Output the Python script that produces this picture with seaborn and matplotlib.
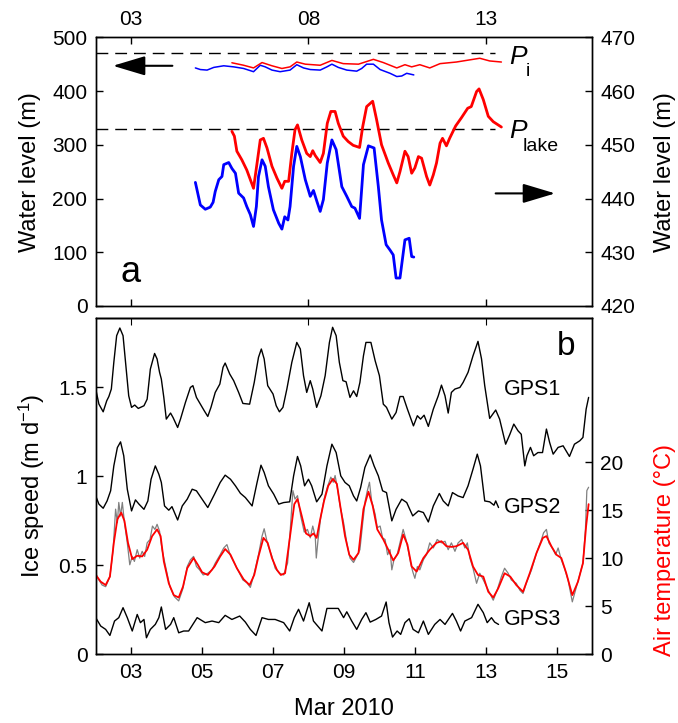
import matplotlib
matplotlib.use('Agg')
import matplotlib.pyplot as plt
import seaborn as sns

# ---- panel a: water level (day of March 2010) ----
# thin lines, left axis (m)
blue_thin_day = [4.81, 4.95, 5.14, 5.33, 5.61, 5.89, 6.17, 6.45, 6.64, 6.78, 6.97, 7.20, 7.48, 7.67, 7.86,
                 8.05, 8.33, 8.52, 8.66, 8.84, 9.08, 9.36, 9.50, 9.64, 9.83, 10.02, 10.30, 10.49, 10.63,
                 10.77, 10.97]
blue_thin_val = [443, 440, 439, 444, 447, 445, 442, 436, 448, 445, 439, 436, 439, 449, 443,
                 440, 439, 445, 450, 444, 439, 437, 442, 450, 450, 440, 433, 427, 428,
                 433, 430]
red_thin_day = [5.84, 6.17, 6.45, 6.69, 6.97, 7.25, 7.48, 7.67, 7.91, 8.33, 8.66, 8.98, 9.41, 9.83,
                10.11, 10.49, 10.72, 10.91, 11.14, 11.42, 11.71, 12.17, 12.83, 13.11, 13.44]
red_thin_val = [452.6, 448, 443, 453, 447, 442, 445, 454, 450, 448, 457, 451, 450, 459,
                453, 443, 449, 445, 449, 443, 451, 454, 461, 456, 454]

# thick lines, right axis (m)
blue_thick_day = [4.81, 4.95, 5.09, 5.23, 5.31, 5.37, 5.47, 5.56, 5.61, 5.75, 5.84, 5.94, 6.03, 6.17,
                  6.26, 6.36, 6.45, 6.53, 6.59, 6.69, 6.78, 6.87, 7.01, 7.16, 7.25, 7.33, 7.42, 7.48,
                  7.58, 7.67, 7.77, 7.91, 8.05, 8.14, 8.24, 8.33, 8.42, 8.53, 8.66, 8.78, 8.94, 9.08,
                  9.22, 9.31, 9.44, 9.55, 9.69, 9.85, 9.97, 10.06, 10.19, 10.30, 10.39, 10.47, 10.58,
                  10.72, 10.84, 10.91, 10.97]
blue_thick_val = [443.0, 438.8, 438.0, 438.4, 439.3, 441.3, 443.5, 444.1, 446.3, 446.7, 445.6, 444.7,
                  441.0, 440.1, 438.5, 437.0, 434.8, 438.5, 444.1, 447.2, 446.0, 442.2, 437.9, 435.4,
                  434.3, 436.6, 436.0, 438.5, 446.0, 449.7, 447.8, 443.5, 440.4, 441.5, 439.4, 437.6,
                  439.8, 446.6, 450.9, 449.1, 442.2, 440.4, 438.5, 438.2, 436.3, 446.3, 449.8, 449.4,
                  442.2, 436.0, 431.4, 430.4, 429.5, 425.2, 425.2, 432.3, 432.6, 429.2, 429.1]
red_thick_day = [5.84, 5.91, 5.98, 6.12, 6.26, 6.45, 6.55, 6.64, 6.73, 6.83, 6.97, 7.11, 7.25, 7.33,
                 7.44, 7.53, 7.62, 7.69, 7.81, 7.95, 8.05, 8.12, 8.19, 8.33, 8.42, 8.53, 8.63, 8.75,
                 8.84, 8.98, 9.12, 9.26, 9.44, 9.53, 9.64, 9.81, 9.92, 10.06, 10.25, 10.39, 10.49,
                 10.58, 10.72, 10.81, 10.91, 11.00, 11.10, 11.19, 11.33, 11.42, 11.52, 11.61, 11.71,
                 11.78, 11.89, 11.98, 12.15, 12.31, 12.49, 12.59, 12.74, 12.81, 12.93, 13.07, 13.21,
                 13.44]
red_thick_val = [452.5, 451.6, 448.8, 447.2, 445.3, 441.9, 446.6, 450.9, 451.2, 449.4, 446.0, 443.8,
                 441.9, 443.2, 443.2, 448.4, 452.8, 453.7, 450.9, 448.4, 447.8, 448.9, 448.0, 446.7,
                 448.4, 454.0, 456.2, 456.2, 454.0, 451.6, 450.6, 449.9, 449.5, 453.4, 457.1, 458.1,
                 454.7, 450.0, 446.6, 444.4, 442.9, 445.0, 448.8, 447.8, 444.7, 445.7, 447.8, 447.5,
                 444.1, 442.5, 444.4, 446.6, 450.3, 451.2, 449.8, 451.2, 453.5, 455.0, 456.8, 457.1,
                 459.9, 460.4, 458.4, 455.3, 454.3, 453.3]
p_i = 470
p_lake = 329

# ---- panel b: ice speed (m/d) and air temperature (degC) ----
gps1_day = [2.00, 2.09, 2.21, 2.31, 2.37, 2.44, 2.51, 2.59, 2.68, 2.77, 2.84, 2.93, 3.01, 3.10, 3.20,
            3.36, 3.45, 3.54, 3.66, 3.73, 3.80, 3.85, 3.92, 3.99, 4.11, 4.18, 4.31, 4.39, 4.53, 4.67,
            4.74, 4.84, 4.95, 5.06, 5.16, 5.25, 5.37, 5.50, 5.59, 5.65, 5.78, 5.89, 6.03, 6.15, 6.34,
            6.47, 6.59, 6.67, 6.75, 6.85, 7.00, 7.09, 7.18, 7.28, 7.39, 7.53, 7.67, 7.77, 7.86, 7.95,
            8.05, 8.12, 8.23, 8.35, 8.47, 8.59, 8.68, 8.78, 8.87, 8.97, 9.06, 9.17, 9.27, 9.36, 9.45,
            9.55, 9.62, 9.76, 9.88, 10.00, 10.11, 10.20, 10.35, 10.47, 10.58, 10.67, 10.79, 10.96,
            11.07, 11.16, 11.26, 11.38, 11.52, 11.66, 11.75, 11.85, 11.94, 12.03, 12.13, 12.27,
            12.36, 12.50, 12.64, 12.78, 12.88, 12.97, 13.11, 13.28, 13.39, 13.56, 13.68, 13.79,
            13.91, 14.00, 14.10, 14.16, 14.26, 14.35, 14.47, 14.60, 14.71, 14.80, 14.90, 15.04,
            15.18, 15.36, 15.50, 15.65, 15.74, 15.83, 15.90]
gps1 = [1.491, 1.406, 1.363, 1.425, 1.449, 1.491, 1.641, 1.791, 1.834, 1.791, 1.641, 1.453, 1.388,
        1.401, 1.382, 1.397, 1.434, 1.603, 1.691, 1.660, 1.585, 1.547, 1.444, 1.322, 1.356, 1.331,
        1.275, 1.322, 1.416, 1.500, 1.510, 1.444, 1.406, 1.369, 1.337, 1.388, 1.472, 1.519, 1.613,
        1.637, 1.575, 1.538, 1.472, 1.410, 1.406, 1.528, 1.669, 1.716, 1.660, 1.510, 1.463, 1.397,
        1.363, 1.388, 1.491, 1.641, 1.753, 1.716, 1.566, 1.472, 1.538, 1.491, 1.388, 1.453, 1.566,
        1.753, 1.838, 1.791, 1.641, 1.538, 1.532, 1.444, 1.481, 1.449, 1.528, 1.678, 1.753, 1.753,
        1.650, 1.566, 1.406, 1.388, 1.322, 1.359, 1.449, 1.449, 1.378, 1.284, 1.341, 1.322, 1.344,
        1.281, 1.378, 1.453, 1.513, 1.453, 1.356, 1.472, 1.491, 1.500, 1.528, 1.585, 1.678, 1.759,
        1.660, 1.510, 1.326, 1.373, 1.322, 1.181, 1.237, 1.294, 1.256, 1.237, 1.059, 1.116, 1.163,
        1.116, 1.134, 1.134, 1.266, 1.191, 1.125, 1.163, 1.172, 1.112, 1.181, 1.200, 1.219, 1.378,
        1.444]

gps2_day = [2.00, 2.09, 2.21, 2.32, 2.42, 2.51, 2.61, 2.70, 2.79, 2.89, 3.01, 3.12, 3.22, 3.36, 3.47,
            3.56, 3.68, 3.78, 3.85, 3.94, 4.06, 4.15, 4.31, 4.44, 4.58, 4.72, 4.84, 5.00, 5.16, 5.35,
            5.51, 5.65, 5.80, 5.94, 6.08, 6.22, 6.41, 6.55, 6.66, 6.75, 6.87, 7.02, 7.16, 7.30, 7.47,
            7.58, 7.69, 7.78, 7.89, 8.00, 8.09, 8.23, 8.38, 8.52, 8.66, 8.78, 8.91, 9.03, 9.15, 9.27,
            9.36, 9.47, 9.59, 9.74, 9.85, 9.97, 10.09, 10.20, 10.35, 10.47, 10.63, 10.77, 10.94,
            11.10, 11.24, 11.38, 11.52, 11.69, 11.80, 11.94, 12.06, 12.22, 12.36, 12.50, 12.64,
            12.76, 12.85, 12.97, 13.11, 13.23, 13.28, 13.36]
gps2 = [0.890, 0.844, 0.821, 0.862, 0.919, 1.059, 1.162, 1.194, 1.116, 0.928, 0.806, 0.868, 0.844,
        0.815, 0.862, 0.984, 1.059, 1.012, 0.966, 0.834, 0.810, 0.830, 0.755, 0.834, 0.872, 0.928,
        0.919, 0.872, 0.825, 0.900, 0.966, 1.007, 0.984, 0.947, 0.905, 0.881, 0.834, 0.966, 1.063,
        1.022, 0.947, 0.900, 0.844, 0.853, 0.857, 1.003, 1.112, 1.059, 0.947, 0.984, 0.947, 0.857,
        0.900, 1.059, 1.181, 1.134, 1.003, 0.966, 0.947, 0.890, 0.862, 0.937, 1.050, 1.121, 1.059,
        1.003, 0.919, 0.909, 0.750, 0.815, 0.872, 0.853, 0.778, 0.806, 0.797, 0.744, 0.834, 0.904,
        0.862, 0.834, 0.909, 0.890, 0.881, 0.947, 1.041, 1.125, 1.059, 0.862, 0.857, 0.838, 0.862,
        0.825]

gps3_day = [2.00, 2.14, 2.28, 2.40, 2.53, 2.65, 2.77, 2.89, 3.03, 3.17, 3.26, 3.36, 3.43, 3.54, 3.68,
            3.78, 3.85, 3.97, 4.11, 4.20, 4.34, 4.48, 4.62, 4.86, 5.09, 5.28, 5.47, 5.65, 5.84, 6.06,
            6.22, 6.36, 6.52, 6.69, 6.87, 7.06, 7.30, 7.47, 7.60, 7.72, 7.86, 8.02, 8.14, 8.38, 8.52,
            8.84, 8.99, 9.08, 9.22, 9.36, 9.50, 9.62, 9.74, 9.90, 10.06, 10.19, 10.27, 10.37, 10.50,
            10.60, 10.72, 10.84, 10.95, 11.10, 11.24, 11.38, 11.56, 11.71, 11.85, 12.06, 12.17,
            12.29, 12.41, 12.60, 12.78, 12.93, 13.04, 13.16, 13.25, 13.36]
gps3 = [0.206, 0.159, 0.140, 0.106, 0.187, 0.206, 0.262, 0.206, 0.131, 0.224, 0.178, 0.196, 0.093,
        0.140, 0.168, 0.206, 0.266, 0.140, 0.168, 0.206, 0.121, 0.131, 0.131, 0.206, 0.178, 0.187,
        0.178, 0.219, 0.196, 0.215, 0.181, 0.140, 0.106, 0.206, 0.196, 0.196, 0.178, 0.131, 0.206,
        0.253, 0.187, 0.290, 0.187, 0.131, 0.258, 0.258, 0.206, 0.239, 0.187, 0.140, 0.196, 0.234,
        0.181, 0.196, 0.215, 0.294, 0.178, 0.097, 0.131, 0.112, 0.178, 0.200, 0.140, 0.121, 0.187,
        0.112, 0.168, 0.196, 0.168, 0.230, 0.187, 0.131, 0.187, 0.206, 0.281, 0.234, 0.178, 0.206,
        0.181, 0.168]

temp_day = [2.00, 2.14, 2.28, 2.40, 2.51, 2.61, 2.72, 2.81, 2.91, 3.03, 3.17, 3.31, 3.45, 3.59, 3.73,
            3.83, 3.92, 4.06, 4.20, 4.34, 4.46, 4.58, 4.76, 4.88, 5.00, 5.16, 5.35, 5.51, 5.65, 5.80,
            5.98, 6.17, 6.34, 6.47, 6.59, 6.73, 6.85, 6.97, 7.11, 7.22, 7.34, 7.48, 7.60, 7.69, 7.81,
            7.93, 8.05, 8.14, 8.23, 8.33, 8.44, 8.56, 8.69, 8.80, 8.91, 9.03, 9.15, 9.27, 9.41, 9.55,
            9.69, 9.81, 9.94, 10.11, 10.25, 10.39, 10.53, 10.67, 10.79, 10.91, 11.05, 11.24, 11.42,
            11.61, 11.75, 11.89, 12.03, 12.17, 12.36, 12.50, 12.64, 12.78, 12.93, 13.07, 13.21,
            13.35, 13.53, 13.69, 13.86, 14.05, 14.24, 14.43, 14.61, 14.71, 14.85, 14.99, 15.13,
            15.27, 15.44, 15.60, 15.74, 15.83, 15.90]
temp_smooth = [8.26, 7.56, 7.21, 8.09, 11.60, 14.05, 14.75, 13.88, 11.60, 9.91, 10.26, 10.19, 10.89,
               12.30, 13.00, 12.30, 9.67, 7.39, 6.16, 5.91, 7.04, 8.96, 10.02, 9.32, 8.54, 8.26,
               9.14, 10.19, 10.96, 10.37, 8.96, 7.81, 7.21, 8.26, 10.19, 12.12, 11.60, 10.02, 8.79,
               8.26, 8.44, 12.30, 15.63, 16.16, 14.40, 12.58, 12.30, 12.58, 12.12, 14.05, 15.98,
               17.56, 18.26, 17.74, 15.11, 12.30, 10.37, 9.84, 10.54, 15.11, 16.93, 15.46, 13.00,
               11.95, 10.89, 9.77, 10.54, 12.47, 11.42, 9.14, 8.61, 10.02, 10.89, 11.60, 11.77,
               11.25, 11.18, 11.25, 11.60, 10.89, 9.14, 8.26, 8.09, 6.51, 5.91, 6.86, 8.44, 8.09,
               7.21, 6.51, 8.44, 10.54, 12.12, 12.30, 11.25, 10.37, 10.02, 8.44, 6.16, 7.56, 9.49,
               13.35, 15.63]

temp_raw_day = [2.00, 2.09, 2.18, 2.28, 2.40, 2.49, 2.56, 2.61, 2.65, 2.70, 2.75, 2.81, 2.89, 2.96,
                3.03, 3.09, 3.17, 3.24, 3.31, 3.38, 3.45, 3.53, 3.60, 3.67, 3.73, 3.80, 3.87, 3.97,
                4.09, 4.22, 4.34, 4.46, 4.58, 4.67, 4.76, 4.84, 4.93, 5.03, 5.16, 5.28, 5.37, 5.51,
                5.61, 5.70, 5.80, 5.91, 6.03, 6.15, 6.26, 6.36, 6.47, 6.59, 6.69, 6.75, 6.85, 6.97,
                7.06, 7.18, 7.30, 7.41, 7.48, 7.56, 7.62, 7.69, 7.78, 7.88, 7.97, 8.05, 8.12, 8.19,
                8.22, 8.27, 8.35, 8.44, 8.53, 8.63, 8.70, 8.75, 8.82, 8.89, 8.99, 9.08, 9.17, 9.27,
                9.36, 9.45, 9.53, 9.60, 9.66, 9.72, 9.78, 9.88, 9.94, 10.02, 10.09, 10.16, 10.23,
                10.30, 10.35, 10.41, 10.50, 10.58, 10.67, 10.75, 10.81, 10.88, 10.94, 11.00, 11.07,
                11.14, 11.24, 11.33, 11.42, 11.52, 11.63, 11.75, 11.85, 11.94, 12.03, 12.13, 12.22,
                12.32, 12.41, 12.48, 12.55, 12.64, 12.74, 12.83, 12.93, 13.07, 13.21, 13.32, 13.44,
                13.53, 13.63, 13.72, 13.86, 13.96, 14.05, 14.14, 14.29, 14.43, 14.57, 14.63, 14.71,
                14.78, 14.90, 14.97, 15.04, 15.13, 15.22, 15.32, 15.44, 15.53, 15.62, 15.74, 15.81,
                15.85, 15.90]
temp_raw = [8.44, 7.74, 7.21, 7.04, 8.09, 10.89, 15.11, 13.70, 15.81, 14.40, 15.81, 13.70, 11.60,
            9.32, 10.19, 9.67, 10.89, 10.02, 10.72, 10.19, 11.60, 11.95, 13.35, 13.00, 13.53, 12.82,
            10.89, 9.14, 7.04, 5.98, 5.56, 6.86, 9.14, 9.84, 10.19, 9.14, 8.79, 8.26, 8.44, 8.79,
            9.49, 10.37, 11.07, 11.42, 10.26, 9.49, 8.61, 7.74, 7.46, 6.96, 8.44, 10.37, 12.30,
            13.07, 11.42, 10.19, 8.96, 8.44, 8.26, 9.49, 12.65, 17.04, 16.16, 16.51, 14.40, 12.72,
            13.00, 12.12, 13.35, 12.30, 10.02, 11.95, 14.40, 16.16, 17.39, 18.44, 17.91, 18.61,
            17.21, 15.46, 13.70, 11.60, 10.02, 9.56, 10.19, 10.89, 13.70, 15.98, 17.04, 17.91,
            15.98, 14.58, 13.18, 13.35, 12.12, 11.95, 10.37, 10.89, 8.79, 9.84, 10.37, 11.60,
            13.00, 11.95, 10.89, 9.49, 8.61, 7.91, 9.14, 8.79, 9.84, 10.37, 11.60, 11.07, 11.95,
            11.60, 11.77, 10.89, 11.60, 10.72, 11.60, 11.95, 11.07, 11.60, 10.02, 8.96, 7.39, 8.44,
            7.74, 6.68, 5.63, 6.68, 8.09, 8.96, 8.44, 7.74, 7.39, 6.68, 6.33, 7.39, 8.79, 10.54,
            11.95, 12.65, 13.00, 11.60, 10.89, 10.37, 11.07, 9.84, 8.96, 7.74, 5.46, 6.68, 7.91,
            9.49, 13.00, 17.04, 17.39]

sns.set_style('ticks')
plt.rcParams['font.family'] = ['Liberation Sans', 'DejaVu Sans']
plt.rcParams['mathtext.fontset'] = 'custom'
plt.rcParams['mathtext.rm'] = 'Liberation Sans'
plt.rcParams['mathtext.it'] = 'Liberation Sans:italic'
plt.rcParams['axes.edgecolor'] = 'black'
plt.rcParams['axes.linewidth'] = 1.0
plt.rcParams['text.color'] = 'black'
plt.rcParams['axes.labelcolor'] = 'black'
plt.rcParams['xtick.color'] = 'black'
plt.rcParams['ytick.color'] = 'black'

tick_fs = 15
lab_fs = 17

fig = plt.figure(figsize=(6.78, 7.23), dpi=100)
ax1 = fig.add_axes([0.1412, 0.5768, 0.7322, 0.3716])
ax1r = ax1.twinx()
ax2 = fig.add_axes([0.1412, 0.0950, 0.7322, 0.4651])
ax2r = ax2.twinx()

# panel a
sns.lineplot(x=blue_thin_day, y=blue_thin_val, ax=ax1, color='#0000ff', lw=1.1, estimator=None, sort=False)
sns.lineplot(x=red_thin_day, y=red_thin_val, ax=ax1, color='#ff0000', lw=1.1, estimator=None, sort=False)
sns.lineplot(x=blue_thick_day, y=blue_thick_val, ax=ax1r, color='#0000ff', lw=2.0, estimator=None, sort=False)
sns.lineplot(x=red_thick_day, y=red_thick_val, ax=ax1r, color='#ff0000', lw=2.0, estimator=None, sort=False)
for lev in [p_i, p_lake]:
    ax1.plot([2, 13.25], [lev, lev], color='k', lw=1.0, dashes=(8.5, 5))
# P labels with a lowered subscript
ax1.text(13.65, 451, 'P', fontsize=19, style='italic', va='baseline')
ax1.text(14.12, 428, 'i', fontsize=14, va='baseline')
ax1.text(13.65, 312, 'P', fontsize=19, style='italic', va='baseline')
ax1.text(14.05, 289, 'lake', fontsize=14, va='baseline')

arrow = dict(arrowstyle='-|>,head_length=2.0,head_width=0.6', color='k', lw=1.5, mutation_scale=10)
ax1.annotate('', xy=(0.029, 0.894), xytext=(0.160, 0.894), xycoords='axes fraction', arrowprops=arrow)
ax1.annotate('', xy=(0.931, 0.419), xytext=(0.800, 0.419), xycoords='axes fraction', arrowprops=arrow)
ax1.text(0.050, 0.090, 'a', transform=ax1.transAxes, fontsize=26)

ax1.set_xlim(2, 16)
ax1.set_xticks([3, 8, 13])
ax1.set_xticklabels(['03', '08', '13'])
ax1.set_ylim(0, 500)
ax1.set_yticks(range(0, 501, 100))
ax1r.set_ylim(420, 470)
ax1r.set_yticks(range(420, 471, 10))
ax1.tick_params(axis='x', top=True, bottom=True, labeltop=True, labelbottom=False)
ax1.set_ylabel('Water level (m)', fontsize=lab_fs, labelpad=8)
ax1r.set_ylabel('Water level (m)', fontsize=lab_fs, labelpad=13)
ax1.set_xlabel('')

# panel b
sns.lineplot(x=gps1_day, y=gps1, ax=ax2, color='k', lw=1.0, estimator=None, sort=False)
sns.lineplot(x=gps2_day, y=gps2, ax=ax2, color='k', lw=1.0, estimator=None, sort=False)
sns.lineplot(x=gps3_day, y=gps3, ax=ax2, color='k', lw=1.0, estimator=None, sort=False)
sns.lineplot(x=temp_raw_day, y=temp_raw, ax=ax2r, color='#808080', lw=0.9, estimator=None, sort=False)
sns.lineplot(x=temp_day, y=temp_smooth, ax=ax2r, color='#ff0000', lw=1.3, estimator=None, sort=False)
for lbl, yv in [('GPS1', 1.49), ('GPS2', 0.826), ('GPS3', 0.196)]:
    ax2.text(13.5, yv, lbl, fontsize=15.5, va='center')
ax2.text(0.966, 0.889, 'b', transform=ax2.transAxes, fontsize=24, ha='right')

ax2.set_xlim(2, 16)
ax2.set_xticks(range(3, 16, 2))
ax2.set_xticklabels(['%02d' % d for d in range(3, 16, 2)])
ax2.set_ylim(0, 1.89)
ax2.set_yticks([0, 0.5, 1, 1.5])
ax2.set_yticklabels(['0', '0.5', '1', '1.5'])
ax2r.set_ylim(0, 35)
ax2r.set_yticks(range(0, 21, 5))
top2 = ax2.secondary_xaxis('top')
top2.set_xticks([3, 8, 13])
top2.set_xticklabels([])
top2.tick_params(direction='in', length=5)
ax2.set_xlabel('Mar 2010', fontsize=lab_fs, labelpad=12)
ax2.set_ylabel('Ice speed (m d$^{-1}$)', fontsize=lab_fs, labelpad=8)
ax2r.set_ylabel('Air temperature (°C)', fontsize=lab_fs, color='#ff0000')
ax2r.yaxis.set_label_coords(1.125, 0.31)

for ax in [ax1, ax1r, ax2, ax2r]:
    ax.tick_params(direction='in', length=5, width=1, labelsize=tick_fs, pad=6, colors='k')
    for sp in ax.spines.values():
        sp.set_visible(True)
        sp.set_color('k')

fig.savefig('out.png', dpi=100)
